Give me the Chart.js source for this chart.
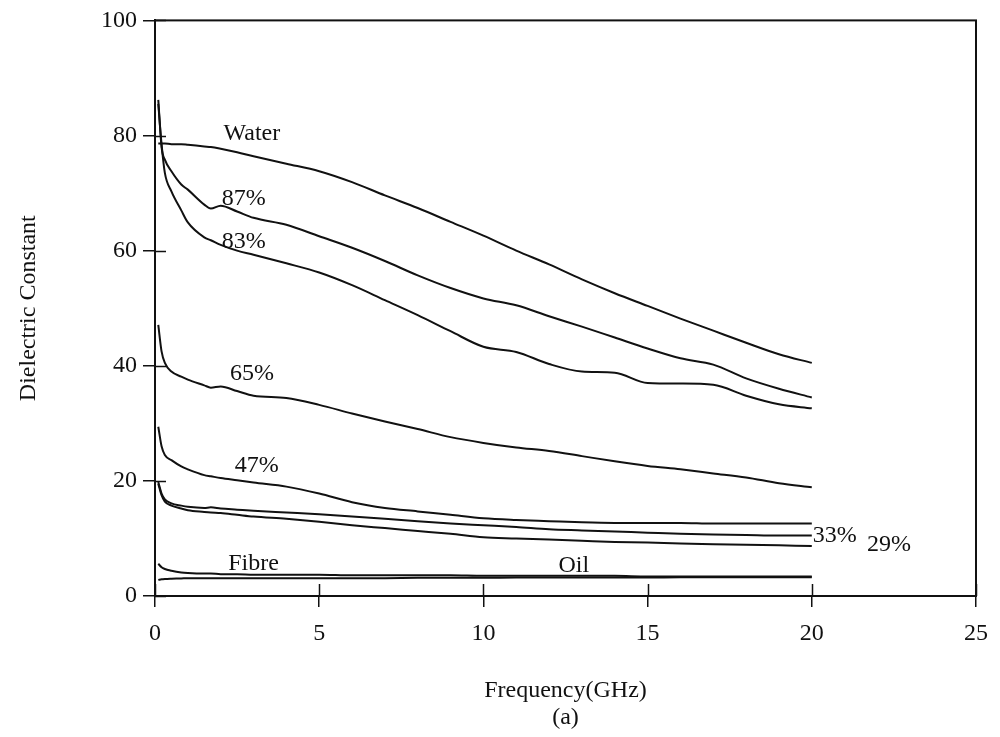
<!DOCTYPE html>
<html>
<head>
<meta charset="utf-8">
<script src="https://cdn.jsdelivr.net/npm/chart.js@4.4.0/dist/chart.umd.min.js"></script>
<style>
  html, body { margin: 0; padding: 0; background: #fff; }
  #wrap { width: 1000px; height: 737px; }
</style>
</head>
<body>
<div id="wrap"><canvas id="chart" width="1000" height="737"></canvas></div>
<script>
// frequency grid (GHz), shared by every curve
const freq = [0.1, 0.2, 0.3, 0.5, 0.8, 1, 1.5, 1.7, 2, 2.5, 3, 4, 5, 6, 7, 8, 9, 10, 11, 12, 13, 14, 15, 16, 17, 18, 19, 20];

// dielectric constant
const water = [78.6, 78.6, 78.6, 78.5, 78.5, 78.4, 78.1, 78.0, 77.7, 77.1, 76.4, 75.1, 73.8, 71.9, 69.6, 67.4, 65.0, 62.6, 60.0, 57.6, 55.0, 52.6, 50.4, 48.2, 46.1, 44.0, 42.0, 40.5];
const pct87 = [86.2, 78.0, 75.8, 73.8, 71.5, 70.6, 68.0, 67.3, 67.8, 66.8, 65.7, 64.5, 62.5, 60.5, 58.2, 55.7, 53.5, 51.7, 50.5, 48.6, 46.8, 44.9, 43.0, 41.3, 40.2, 37.8, 36.0, 34.5];
const pct83 = [85.5, 78.5, 73.5, 70.3, 67.0, 64.9, 62.3, 61.8, 61.0, 60.0, 59.3, 57.8, 56.2, 54.0, 51.4, 48.8, 46.0, 43.3, 42.4, 40.3, 39.0, 38.8, 37.0, 36.9, 36.7, 34.8, 33.3, 32.6];
const pct65 = [47.1, 42.5, 40.5, 39.0, 38.1, 37.6, 36.6, 36.2, 36.4, 35.6, 34.8, 34.4, 33.2, 31.7, 30.3, 29.0, 27.6, 26.6, 25.8, 25.2, 24.3, 23.4, 22.6, 22.0, 21.3, 20.6, 19.6, 18.9];
const pct47 = [29.4, 26.0, 24.5, 23.6, 22.5, 22.0, 21.0, 20.8, 20.5, 20.1, 19.7, 19.0, 17.8, 16.3, 15.3, 14.7, 14.1, 13.5, 13.2, 13.0, 12.8, 12.7, 12.7, 12.7, 12.6, 12.6, 12.6, 12.6];
const pct33 = [19.8, 17.8, 16.8, 16.1, 15.7, 15.5, 15.3, 15.4, 15.2, 15.0, 14.8, 14.5, 14.2, 13.8, 13.4, 13.0, 12.6, 12.3, 12.0, 11.6, 11.4, 11.2, 11.0, 10.8, 10.7, 10.6, 10.5, 10.5];
const pct29 = [19.5, 17.5, 16.4, 15.7, 15.2, 14.9, 14.6, 14.5, 14.4, 14.1, 13.8, 13.4, 12.9, 12.3, 11.8, 11.3, 10.8, 10.2, 10.0, 9.8, 9.6, 9.4, 9.3, 9.1, 9.0, 8.9, 8.8, 8.7];
const fibre = [5.6, 5.0, 4.7, 4.4, 4.1, 4.0, 3.9, 3.9, 3.8, 3.8, 3.7, 3.7, 3.7, 3.6, 3.6, 3.6, 3.6, 3.5, 3.5, 3.5, 3.5, 3.5, 3.4, 3.4, 3.4, 3.4, 3.4, 3.4];
const oil = [2.8, 2.9, 2.95, 3.0, 3.05, 3.1, 3.1, 3.1, 3.1, 3.1, 3.1, 3.1, 3.1, 3.1, 3.1, 3.15, 3.15, 3.15, 3.2, 3.2, 3.2, 3.2, 3.2, 3.25, 3.25, 3.25, 3.25, 3.25];

const seriesNames = ['Water', '87%', '83%', '65%', '47%', '33%', '29%', 'Fibre', 'Oil'];
const seriesData = [water, pct87, pct83, pct65, pct47, pct33, pct29, fibre, oil];

const xTicks = [0, 5, 10, 15, 20, 25];
const yTicks = [0, 20, 40, 60, 80, 100];

// curve labels, placed in data coordinates
const labelText = ['Water', '87%', '83%', '65%', '47%', 'Fibre', 'Oil', '33%', '29%'];
const labelX = [2.95, 2.7, 2.7, 2.95, 3.1, 3.0, 12.75, 20.7, 22.35];
const labelY = [80.4, 69.0, 61.5, 38.7, 22.6, 5.6, 5.3, 10.5, 8.9];

const serif = "'Liberation Serif', 'Times New Roman', serif";
const ink = '#111';

const datasets = seriesNames.map((name, i) => ({
  label: name,
  data: freq.map((f, j) => ({ x: f, y: seriesData[i][j] })),
  borderColor: ink,
  borderWidth: 2,
  pointRadius: 0,
  fill: false,
  cubicInterpolationMode: 'monotone'
}));

// box round the plot, inner halves of the ticks and the curve labels
const decorations = {
  id: 'decorations',
  afterDatasetsDraw(chart) {
    const { ctx, chartArea: a, scales: { x, y } } = chart;
    ctx.save();
    ctx.strokeStyle = ink;
    ctx.lineWidth = 2;
    ctx.strokeRect(a.left, a.top, a.right - a.left, a.bottom - a.top);

    ctx.lineWidth = 1.5;
    ctx.beginPath();
    yTicks.forEach(v => {
      const py = Math.round(y.getPixelForValue(v)) + 0.5;
      ctx.moveTo(a.left, py);
      ctx.lineTo(a.left + 11, py);
    });
    xTicks.forEach(v => {
      const px = Math.round(x.getPixelForValue(v)) + 0.5;
      ctx.moveTo(px, a.bottom);
      ctx.lineTo(px, a.bottom - 12);
    });
    ctx.stroke();

    ctx.fillStyle = ink;
    ctx.font = '24px ' + serif;
    ctx.textAlign = 'center';
    ctx.textBaseline = 'middle';
    labelText.forEach((t, i) => {
      ctx.fillText(t, x.getPixelForValue(labelX[i]), y.getPixelForValue(labelY[i]));
    });
    ctx.restore();
  }
};

new Chart(document.getElementById('chart'), {
  type: 'line',
  data: { datasets },
  plugins: [decorations],
  options: {
    responsive: false,
    animation: false,
    layout: { padding: { left: 0, top: 18, right: 20, bottom: 0 } },
    plugins: { legend: { display: false }, tooltip: { enabled: false } },
    scales: {
      x: {
        type: 'linear',
        min: 0,
        max: 25,
        afterBuildTicks: s => { s.ticks = xTicks.map(v => ({ value: v })); },
        afterFit: s => { s.height = 141; },
        ticks: { color: ink, font: { family: serif, size: 24 }, padding: 12, maxRotation: 0 },
        grid: { drawOnChartArea: false, color: ink, lineWidth: 1.5, tickLength: 11 },
        border: { color: ink, width: 2 },
        title: {
          display: true,
          text: ['Frequency(GHz)', '(a)'],
          color: ink,
          font: { family: serif, size: 24, lineHeight: 1.125 },
          padding: { top: 0, bottom: 6 }
        }
      },
      y: {
        min: 0,
        max: 100,
        afterBuildTicks: s => { s.ticks = yTicks.map(v => ({ value: v })); },
        afterFit: s => { s.width = 155; },
        ticks: { color: ink, font: { family: serif, size: 24 }, padding: 6 },
        grid: { drawOnChartArea: false, color: ink, lineWidth: 1.5, tickLength: 12 },
        border: { color: ink, width: 2 },
        title: {
          display: true,
          text: 'Dielectric Constant',
          color: ink,
          font: { family: serif, size: 24, lineHeight: 1 },
          padding: { top: 17, bottom: 0 }
        }
      }
    }
  }
});
</script>
</body>
</html>
